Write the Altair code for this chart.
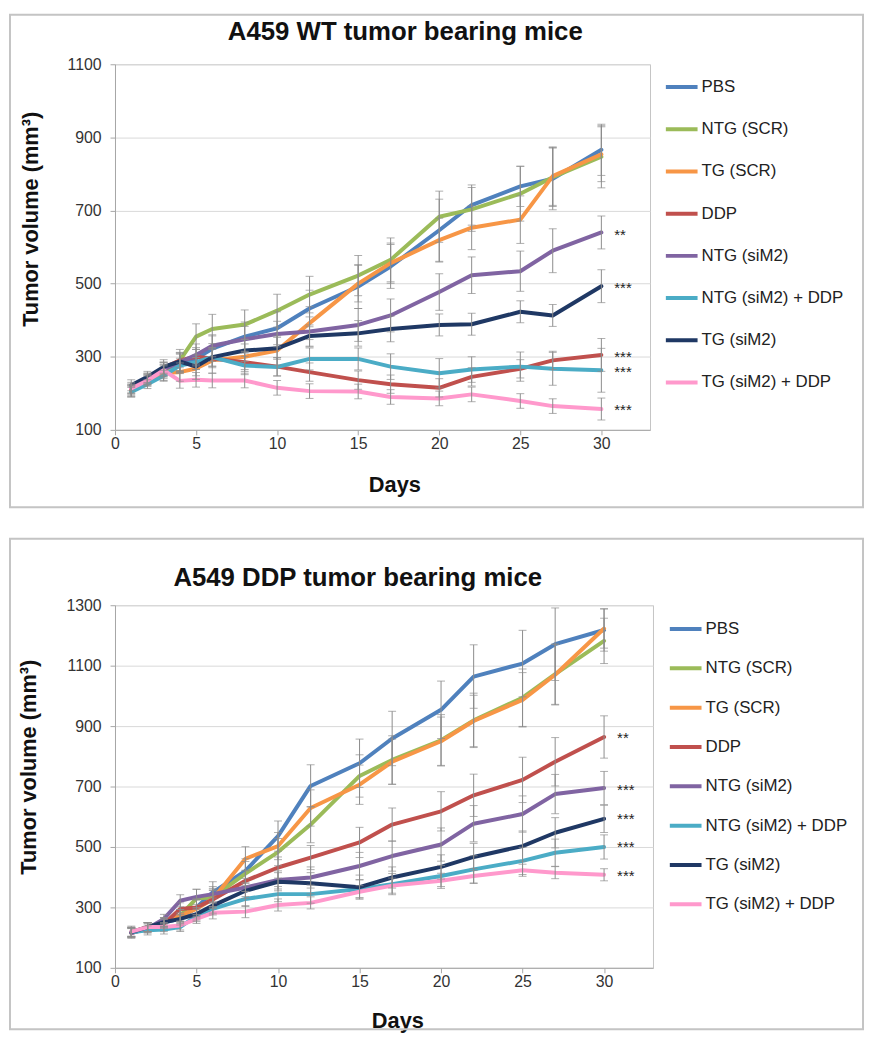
import altair as alt
import pandas as pd

FONT = "Liberation Sans"

days = [1, 2, 3, 4, 5, 6, 8, 10, 12, 15, 17, 20, 22, 25, 27, 30]
series = ["PBS", "NTG (SCR)", "TG (SCR)", "DDP", "NTG (siM2)",
          "NTG (siM2) + DDP", "TG (siM2)", "TG (siM2) + DDP"]
colors = ["#4F81BD", "#9BBB59", "#F79646", "#C0504D", "#8064A2",
          "#4BACC6", "#1F3864", "#FF99CC"]

# ---- Panel 1: A459 WT ----
wt_pbs = [210, 240, 265, 282, 295, 322, 355, 378, 432, 492, 547, 646, 715, 766, 787, 866]
wt_ntg_scr = [205, 235, 260, 290, 355, 376, 388, 426, 470, 522, 565, 683, 703, 746, 791, 847]
wt_tg_scr = [205, 235, 255, 258, 268, 290, 300, 317, 392, 500, 556, 619, 653, 675, 794, 854]
wt_ddp = [210, 240, 270, 290, 300, 295, 285, 273, 258, 236, 225, 215, 245, 267, 290, 305]
wt_ntg_sim2 = [215, 240, 265, 285, 305, 330, 348, 362, 369, 387, 413, 477, 523, 534, 590, 640]
wt_ntg_sim2_ddp = [204, 225, 248, 276, 285, 299, 276, 272, 294, 294, 273, 255, 265, 273, 267, 263]
wt_tg_sim2 = [222, 245, 272, 287, 273, 299, 317, 323, 357, 364, 376, 387, 389, 423, 413, 493]
wt_tg_sim2_ddp = [213, 235, 263, 234, 237, 235, 235, 215, 206, 205, 190, 186, 197, 179, 165, 157]

wt_pbs_err = [15, 15, 20, 25, 30, 35, 40, 45, 50, 60, 60, 85, 55, 55, 85, 70]
wt_ntg_scr_err = [15, 15, 20, 30, 35, 40, 40, 45, 50, 55, 60, 70, 60, 75, 80, 85]
wt_tg_scr_err = [15, 15, 20, 25, 30, 35, 35, 40, 45, 50, 55, 60, 60, 65, 80, 75]
wt_ddp_err = [12, 12, 15, 20, 20, 25, 25, 25, 25, 25, 25, 25, 25, 25, 25, 45]
wt_ntg_sim2_err = [15, 15, 20, 25, 30, 30, 35, 35, 40, 45, 45, 50, 50, 55, 60, 45]
wt_ntg_sim2_ddp_err = [12, 12, 15, 20, 20, 25, 25, 25, 30, 30, 35, 40, 35, 40, 45, 60]
wt_tg_sim2_err = [15, 15, 20, 25, 25, 25, 30, 30, 30, 35, 35, 30, 30, 30, 30, 45]
wt_tg_sim2_ddp_err = [12, 12, 15, 20, 20, 20, 20, 20, 20, 20, 20, 20, 20, 20, 20, 30]

wt_star_labels = ["**", "***", "***", "***", "***"]
wt_star_values = [643, 500, 311, 270, 165]

# ---- Panel 2: A549 DDP ----
dd_pbs = [218, 235, 251, 262, 300, 350, 421, 536, 702, 777, 859, 954, 1064, 1107, 1171, 1218]
dd_ntg_scr = [218, 235, 250, 273, 330, 333, 412, 483, 574, 735, 788, 853, 919, 994, 1072, 1182]
dd_tg_scr = [218, 235, 250, 273, 295, 328, 461, 503, 629, 706, 782, 850, 917, 987, 1070, 1223]
dd_ddp = [215, 232, 245, 295, 300, 326, 388, 432, 465, 515, 574, 618, 671, 722, 782, 864]
dd_ntg_sim2 = [215, 230, 262, 322, 335, 344, 366, 391, 399, 437, 470, 508, 577, 609, 675, 695]
dd_ntg_sim2_ddp = [218, 224, 227, 235, 273, 295, 328, 344, 344, 361, 377, 404, 426, 454, 481, 500]
dd_tg_sim2 = [218, 235, 251, 262, 278, 306, 355, 385, 380, 367, 399, 434, 467, 503, 547, 593]
dd_tg_sim2_ddp = [220, 235, 235, 240, 262, 282, 286, 308, 315, 352, 372, 388, 404, 423, 415, 408]

dd_pbs_err = [20, 15, 15, 20, 30, 35, 40, 50, 70, 80, 90, 95, 105, 110, 120, 70]
dd_ntg_scr_err = [15, 15, 15, 20, 30, 30, 40, 45, 60, 70, 80, 85, 90, 95, 100, 75]
dd_tg_scr_err = [15, 15, 15, 20, 30, 30, 40, 45, 60, 65, 75, 80, 85, 90, 100, 65]
dd_ddp_err = [15, 15, 15, 20, 25, 30, 35, 35, 40, 50, 55, 65, 70, 75, 80, 70]
dd_ntg_sim2_err = [15, 15, 15, 20, 25, 25, 30, 30, 35, 45, 50, 55, 60, 60, 65, 55]
dd_ntg_sim2_ddp_err = [15, 15, 15, 15, 20, 20, 25, 25, 30, 30, 35, 35, 45, 45, 45, 40]
dd_tg_sim2_err = [15, 15, 15, 15, 20, 25, 25, 30, 35, 40, 35, 40, 45, 50, 50, 45]
dd_tg_sim2_ddp_err = [15, 15, 15, 15, 15, 20, 20, 20, 20, 20, 25, 25, 25, 20, 20, 20]

dd_star_labels = ["**", "***", "***", "***", "***"]
dd_star_values = [874, 703, 605, 513, 418]

x_ticks = [0, 5, 10, 15, 20, 25, 30]
wt_y_ticks = [100, 300, 500, 700, 900, 1100]
dd_y_ticks = [100, 300, 500, 700, 900, 1100, 1300]


def long_df(vals, errs):
    rows = []
    for s, v, e in zip(series, vals, errs):
        for d, yv, ev in zip(days, v, e):
            rows.append({"series": s, "day": d, "value": yv, "err": ev})
    return pd.DataFrame(rows)


def panel(vals, errs, star_labels, star_values, title, ymin, ymax, yticks,
          width, height, title_xy, rect, xtitle_xy, ytitle_xy,
          legend_xy, legend_row_pad, widths):
    df = long_df(vals, errs)
    one = pd.DataFrame({"a": [0]})
    xscale = alt.Scale(domain=[0, 33], nice=False, zero=False)
    yscale = alt.Scale(domain=[ymin, ymax], nice=False, zero=False)

    frame = alt.Chart(one).mark_rect(fill="white", fillOpacity=0,
                                     stroke="#c4c4c4", strokeWidth=2).encode(
        x=alt.value(rect[0]), x2=alt.value(rect[1]),
        y=alt.value(rect[2]), y2=alt.value(rect[3]))

    ttl = alt.Chart(one).mark_text(text=title, font=FONT, fontSize=26,
                                   fontWeight="bold", color="#111111",
                                   align="center", baseline="middle").encode(
        x=alt.value(title_xy[0]), y=alt.value(title_xy[1]))

    lines = alt.Chart(df).mark_line(strokeJoin="round", strokeCap="round").encode(
        x=alt.X("day:Q", scale=xscale,
                axis=alt.Axis(values=x_ticks, title="Days", grid=False,
                              format="d",
                              labelFlush=False, labelPadding=1,
                              titleX=xtitle_xy[0], titleY=xtitle_xy[1],
                              titleBaseline="alphabetic", titleAlign="center")),
        y=alt.Y("value:Q", scale=yscale,
                axis=alt.Axis(values=yticks, title="Tumor volume (mm³)",
                              grid=True, labelFlush=False, labelPadding=9,
                              format="d",
                              titleX=ytitle_xy[0], titleY=ytitle_xy[1],
                              titleBaseline="middle", titleAlign="center",
                              titleAngle=270)),
        color=alt.Color("series:N",
                        scale=alt.Scale(domain=series, range=colors),
                        legend=alt.Legend(title=None, orient="none",
                                          legendX=legend_xy[0],
                                          legendY=legend_xy[1],
                                          symbolType="stroke",
                                          symbolSize=1024,
                                          symbolStrokeWidth=4,
                                          labelFontSize=17,
                                          labelFont=FONT,
                                          labelColor="#222222",
                                          labelOffset=2,
                                          rowPadding=legend_row_pad,
                                          padding=0)),
        strokeWidth=alt.StrokeWidth("series:N",
                                    scale=alt.Scale(domain=series, range=widths),
                                    legend=None),
    )

    base_err = alt.Chart(df).transform_calculate(
        lo="datum.value - datum.err", hi="datum.value + datum.err")
    rules = base_err.mark_rule(color="#8c8c8c", strokeWidth=1).encode(
        x="day:Q", y="lo:Q", y2="hi:Q")
    cap_lo = base_err.mark_tick(color="#8c8c8c", orient="horizontal",
                                size=8, thickness=1).encode(x="day:Q", y="lo:Q")
    cap_hi = base_err.mark_tick(color="#8c8c8c", orient="horizontal",
                                size=8, thickness=1).encode(x="day:Q", y="hi:Q")

    sdf = pd.DataFrame({"day": [30.8] * len(star_labels),
                        "value": star_values, "label": star_labels})
    stars = alt.Chart(sdf).mark_text(align="left", baseline="alphabetic", dy=9,
                                     font=FONT, fontSize=15,
                                     color="#222222").encode(
        x="day:Q", y="value:Q", text="label:N")

    return alt.layer(frame, ttl, lines, rules, cap_lo, cap_hi, stars).properties(
        width=width, height=height)


top = panel([wt_pbs, wt_ntg_scr, wt_tg_scr, wt_ddp, wt_ntg_sim2,
             wt_ntg_sim2_ddp, wt_tg_sim2, wt_tg_sim2_ddp],
            [wt_pbs_err, wt_ntg_scr_err, wt_tg_scr_err, wt_ddp_err,
             wt_ntg_sim2_err, wt_ntg_sim2_ddp_err, wt_tg_sim2_err,
             wt_tg_sim2_ddp_err],
            wt_star_labels, wt_star_values,
            "A459 WT tumor bearing mice", 100, 1100, wt_y_ticks,
            540, 369,
            title_xy=(293, -32),
            rect=(-106, 755, -50, 447),
            xtitle_xy=(282, 62),
            ytitle_xy=(-85, 156),
            legend_xy=(554, 5),
            legend_row_pad=16.6,
            widths=[4, 4, 4, 4, 4, 4, 4, 4])

bottom = panel([dd_pbs, dd_ntg_scr, dd_tg_scr, dd_ddp, dd_ntg_sim2,
                dd_ntg_sim2_ddp, dd_tg_sim2, dd_tg_sim2_ddp],
               [dd_pbs_err, dd_ntg_scr_err, dd_tg_scr_err, dd_ddp_err,
                dd_ntg_sim2_err, dd_ntg_sim2_ddp_err, dd_tg_sim2_err,
                dd_tg_sim2_ddp_err],
               dd_star_labels, dd_star_values,
               "A549 DDP tumor bearing mice", 100, 1300, dd_y_ticks,
               543, 366,
               title_xy=(245, -27),
               rect=(-106, 755, -67, 428),
               xtitle_xy=(285, 60),
               ytitle_xy=(-87, 163),
               legend_xy=(558, 6),
               legend_row_pad=13.7,
               widths=[4, 4, 4, 4, 4, 4, 4, 2.5])

chart = alt.vconcat(top, bottom, spacing=28).resolve_scale(
    color="independent", strokeWidth="independent"
).resolve_legend(
    color="independent", strokeWidth="independent"
).properties(
    padding={"left": 0, "top": 0, "right": 0, "bottom": 0}
).configure(font=FONT, padding=0).configure_view(
    stroke="#c4c4c4", strokeWidth=1
).configure_axis(
    labelFont=FONT, labelFontSize=16, labelColor="#333333",
    titleFont=FONT, titleFontSize=22, titleFontWeight="bold", titleColor="#111111",
    domainColor="#a6a6a6", tickColor="#a6a6a6", tickSize=5,
    gridColor="#d9d9d9", labelOverlap=False
)

chart.save("out.html", embed_options={"renderer": "svg", "actions": False})
